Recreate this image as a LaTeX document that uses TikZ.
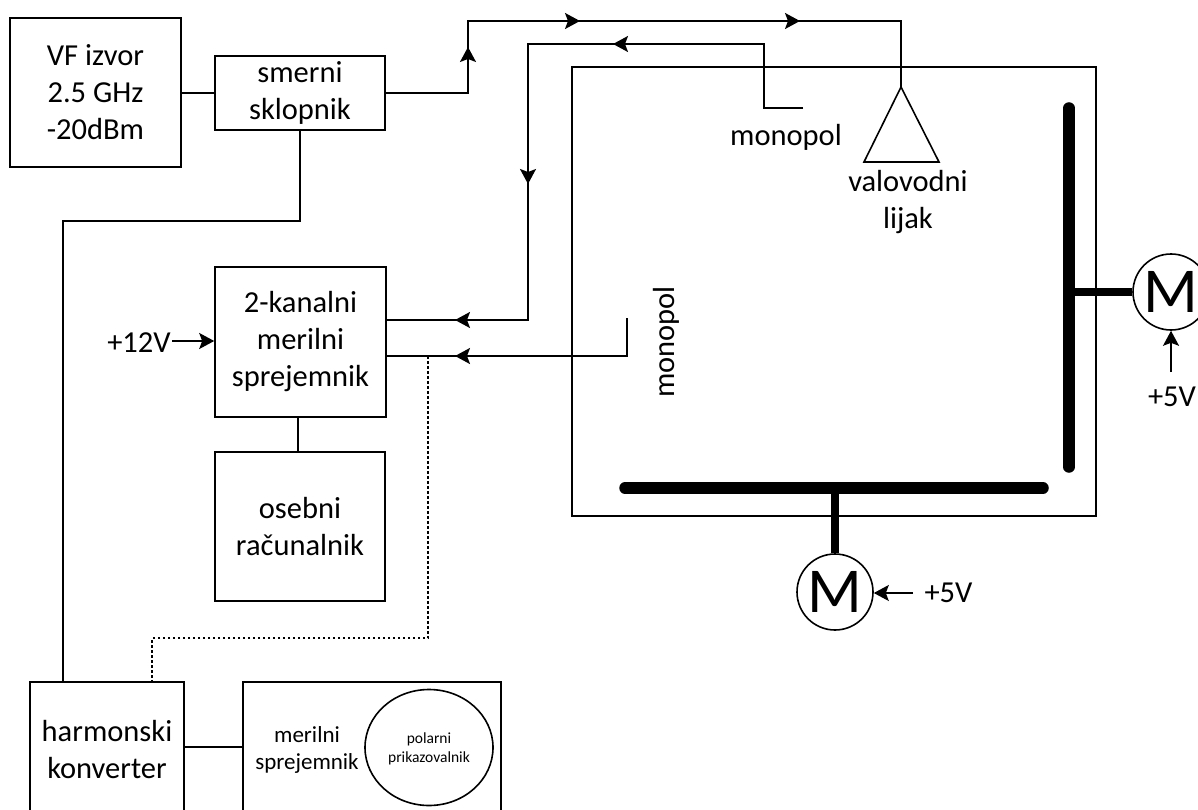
\documentclass[tikz,border=0pt]{standalone}
\usepackage{fontspec}
\setmainfont{Carlito}
\usetikzlibrary{arrows.meta,shapes.geometric}
\tikzset{
  box/.style={draw,line width=1.6pt,minimum width=0pt},
  lbl/.style={font=\fontsize{30.5}{37}\selectfont,align=center,inner sep=0pt},
  small/.style={font=\fontsize{23}{27}\selectfont,align=center,inner sep=0pt},
  tiny/.style={font=\fontsize{15.5}{19}\selectfont,align=center,inner sep=0pt},
  wire/.style={line width=1.6pt},
  tip/.style={-{Stealth[length=15pt,width=16pt,inset=3pt]},line width=1.6pt},
  thickbar/.style={line width=11.5pt,line cap=round},
  shaft/.style={line width=8pt},
  motor/.style={circle,draw,line width=1.6pt,minimum size=76pt,inner sep=0pt,fill=white,font=\fontsize{64}{64}\selectfont},
}
\begin{document}
\begin{tikzpicture}[x=1pt,y=-1pt]
\useasboundingbox (0,0) rectangle (1198,810);
\clip (0,0) rectangle (1198,810);
% boxes
\node[box,lbl,minimum width=171pt,minimum height=149pt] (vf) at (95.5,92.5) {VF izvor\\2.5 GHz\\-20dBm};
\node[box,lbl,minimum width=170pt,minimum height=74pt] (sm) at (300,93) {smerni\\sklopnik};
\node[box,lbl,minimum width=171pt,minimum height=150pt] (rx) at (300.5,342) {2-kanalni\\merilni\\sprejemnik};
\node[box,lbl,minimum width=170pt,minimum height=149pt] (pc) at (300,526.5) {osebni\\računalnik};
\node[box,minimum width=154pt,minimum height=160pt] (hk) at (107,762) {};
\node[lbl] (hkt) at (107,750) {harmonski\\konverter};
\node[box,minimum width=258pt,minimum height=160pt] (mr) at (372,762) {};
\node[small] (mrt) at (307,750) {merilni\\sprejemnik};
\node[draw,line width=1.6pt,ellipse,minimum width=128pt,minimum height=116pt,inner sep=0pt] (pol) at (429,747.5) {};
\node[tiny] (polt) at (429,749) {polarni\\prikazovalnik};
\node[box,minimum width=524pt,minimum height=449pt] (room) at (834,291.5) {};
% horn
\coordinate (ha) at (901,87);
\coordinate (hl) at (864,162);
\coordinate (hr) at (939,162);
\draw[wire] (ha) -- (hl) -- (hr) -- cycle;
% monopole ends
\coordinate (m1) at (803,108);
\coordinate (m2) at (627,318);
% wires
\coordinate (c1) at (468,93);
\coordinate (c2) at (468,21);
\coordinate (c3) at (901,21);
\draw[wire] (sm.east |- c1) -- (c1) -- (c2) -- (c3) -- (ha);
\draw[tip] (c1) -- (468,47);
\draw[tip] (c2) -- (580,21);
\draw[tip] (580,21) -- (800,21);
\coordinate (d1) at (764,108);
\coordinate (d2) at (764,44);
\coordinate (d3) at (528,44);
\coordinate (d4) at (528,320);
\coordinate (rx1) at (386,320);
\coordinate (rx2) at (386,356);
\coordinate (e1) at (627,356);
\draw[wire] (m1) -- (d1) -- (d2) -- (d3) -- (d4) -- (rx1);
\draw[tip] (d2) -- (613,44);
\draw[tip] (d3) -- (528,184);
\draw[tip] (d4) -- (455,320);
\draw[wire] (m2) -- (e1) -- (rx2);
\draw[tip] (e1) -- (455,356);
% dotted
\coordinate (f1) at (428,356);
\coordinate (f2) at (428,638);
\coordinate (f3) at (152,638);
\draw[line width=1.3pt,dash pattern=on 2.5pt off 2.5pt] (f1) -- (f2) -- (f3) -- (f3 |- hk.north);
% plain links
\draw[wire] (vf.east |- sm.west) -- (sm.west);
\coordinate (g1) at (300,221);
\coordinate (g2) at (63,221);
\draw[wire] (sm.south) -- (g1) -- (g2) -- (g2 |- hk.north);
\draw[wire] (298,417) -- (298,452);
\coordinate (lk) at (0,747);
\draw[wire] (hk.east |- lk) -- (mr.west |- lk);
% +12V
\node[lbl] (v12) at (139,343) {+12V};
\draw[tip] (172,341) -- (rx.west |- 0,341);
% labels
\node[lbl] (mt1) at (786,137) {monopol};
\node[lbl] (vl) at (908,202) {valovodni\\lijak};
\node[lbl,rotate=90] (mt2) at (666,342) {monopol};
% motors and bars
\coordinate (b1) at (1069,108);
\coordinate (b2) at (1069,467);
\coordinate (b3) at (625,488);
\coordinate (b4) at (1043,488);
\node[motor] (mv) at (1171,292) {M};
\node[motor] (mh) at (835,592) {M};
\draw[shaft] (1069,292) -- (mv.west);
\draw[shaft] (835,488) -- (mh.north);
\draw[thickbar] (b1) -- (b2);
\draw[thickbar] (b3) -- (b4);
\node[lbl] (p5a) at (1172,397) {+5V};
\node[lbl] (p5b) at (948.5,593) {+5V};
\draw[tip] (1171,372) -- (mv.south);
\draw[tip] (913,593) -- (mh.east |- 0,593);
\end{tikzpicture}
\end{document}
